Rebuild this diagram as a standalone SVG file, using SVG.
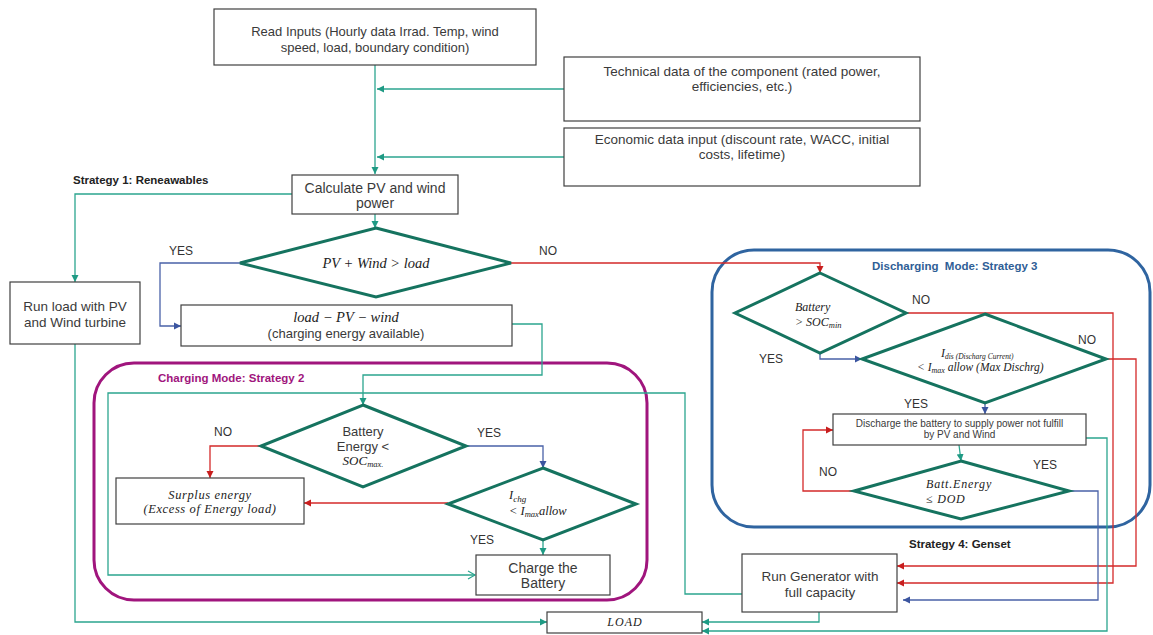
<svg xmlns="http://www.w3.org/2000/svg" width="1153" height="635" viewBox="0 0 1153 635">
  <style>
    .box { fill: #fff; stroke: #404040; stroke-width: 1.2; }
    .dia { fill: #fff; stroke: #15735f; stroke-width: 3; stroke-linejoin: miter; }
    .t { font-family: "Liberation Sans", Arial, sans-serif; fill: #3a3a3a; text-anchor: middle; }
    .lbl { font-family: "Liberation Sans", Arial, sans-serif; font-size: 12px; fill: #333; text-anchor: middle; }
    .m { font-family: "Liberation Serif", "Times New Roman", serif; font-style: italic; fill: #222; }
    .hd { font-family: "Liberation Sans", Arial, sans-serif; font-weight: bold; font-size: 11.5px; }
    .teal { fill: none; stroke: #2ba58f; stroke-width: 1.3; }
    .red { fill: none; stroke: #d42a2a; stroke-width: 1.3; }
    .blue { fill: none; stroke: #4a62a8; stroke-width: 1.3; }
  </style>
  <defs>
    <marker id="aTeal" markerUnits="userSpaceOnUse" markerWidth="8" markerHeight="8" refX="7" refY="4" orient="auto">
      <path d="M0,0.5 L7,4 L0,7.5 z" fill="#1f9a84"/>
    </marker>
    <marker id="aTealOpen" markerUnits="userSpaceOnUse" markerWidth="10" markerHeight="10" refX="8" refY="5" orient="auto">
      <path d="M1,1 L8,5 L1,9" fill="none" stroke="#2ba58f" stroke-width="1.2"/>
    </marker>
    <marker id="aRed" markerUnits="userSpaceOnUse" markerWidth="8" markerHeight="8" refX="7" refY="4" orient="auto">
      <path d="M0,0.5 L7,4 L0,7.5 z" fill="#c81e1e"/>
    </marker>
    <marker id="aBlue" markerUnits="userSpaceOnUse" markerWidth="8" markerHeight="8" refX="7" refY="4" orient="auto">
      <path d="M0,0.5 L7,4 L0,7.5 z" fill="#3b55a0"/>
    </marker>
  </defs>

  <!-- mode containers -->
  <g id="charging-mode">
    <rect x="94" y="363" width="553" height="237" rx="40" fill="none" stroke="#a0157d" stroke-width="3"/>
    <text class="hd" x="158" y="382" fill="#a0157d">Charging Mode: Strategy 2</text>
  </g>
  <g id="discharging-mode">
    <rect x="712" y="250" width="438" height="277" rx="42" fill="none" stroke="#2f64a0" stroke-width="3"/>
    <text class="hd" x="872" y="270" fill="#2f5e96" xml:space="preserve">Discharging  Mode: Strategy 3</text>
  </g>
  <text class="hd" x="73" y="184" fill="#222">Strategy 1: Reneawables</text>
  <text class="hd" x="909" y="548" fill="#222">Strategy 4: Genset</text>

  <!-- connectors -->
  <g id="connectors">
    <path class="teal" d="M375,65 V174" marker-end="url(#aTeal)"/>
    <path class="teal" d="M564,89 H377" marker-end="url(#aTeal)"/>
    <path class="teal" d="M564,157 H377" marker-end="url(#aTeal)"/>
    <path class="teal" d="M375,214 V228" marker-end="url(#aTeal)"/>
    <path class="teal" d="M292,194 H75 V282" marker-end="url(#aTeal)"/>
    <path class="red" d="M511,263 H820 V273" marker-end="url(#aRed)"/>
    <path class="blue" d="M240,263 H160 V326 H181" marker-end="url(#aBlue)"/>
    <path class="teal" d="M512,324 H542 V375 H363 V405" marker-end="url(#aTeal)"/>
    <path class="teal" d="M742,594 H685 V393 H108 V575 H475" marker-end="url(#aTealOpen)"/>
    <path class="red" d="M261,446 H210 V478" marker-end="url(#aRed)"/>
    <path class="blue" d="M466,446 H543 V468" marker-end="url(#aBlue)"/>
    <path class="red" d="M448,503 H304" marker-end="url(#aRed)"/>
    <path class="teal" d="M543,540 V555" marker-end="url(#aTeal)"/>
    <path class="teal" d="M75,344 V622 H547" marker-end="url(#aTeal)"/>
    <path class="red" d="M906,313 H1113 V583 H897" marker-end="url(#aRed)"/>
    <path class="red" d="M1106,359 H1136 V566 H897" marker-end="url(#aRed)"/>
    <path class="blue" d="M820,353 V359 H862" marker-end="url(#aBlue)"/>
    <path class="blue" d="M985,403 V414" marker-end="url(#aBlue)"/>
    <path class="teal" d="M959,445 L961,461" marker-end="url(#aTeal)"/>
    <path class="red" d="M854,491 H803 V430 H833" marker-end="url(#aRed)"/>
    <path class="blue" d="M1069,491 H1098 V600 H903" marker-end="url(#aBlue)"/>
    <path class="teal" d="M1086,438 H1107 V631 H702" marker-end="url(#aTeal)"/>
    <path class="teal" d="M819,612 V622 H702" marker-end="url(#aTeal)"/>
  </g>

  <!-- branch labels -->
  <g id="branch-labels">
    <text class="lbl" x="181" y="255">YES</text>
    <text class="lbl" x="548" y="255">NO</text>
    <text class="lbl" x="223" y="436">NO</text>
    <text class="lbl" x="489" y="437">YES</text>
    <text class="lbl" x="482" y="544">YES</text>
    <text class="lbl" x="921" y="304">NO</text>
    <text class="lbl" x="771" y="363">YES</text>
    <text class="lbl" x="1087" y="344">NO</text>
    <text class="lbl" x="916" y="408">YES</text>
    <text class="lbl" x="828" y="476">NO</text>
    <text class="lbl" x="1045" y="469">YES</text>
  </g>

  <!-- input nodes -->
  <g id="read-inputs">
    <rect class="box" x="214" y="9" width="322" height="56"/>
    <text class="t" x="375" y="35.5" font-size="13">Read Inputs (Hourly data Irrad. Temp, wind</text>
    <text class="t" x="375" y="51.5" font-size="13">speed, load, boundary condition)</text>
  </g>
  <g id="technical-data">
    <rect class="box" x="564" y="57" width="356" height="64"/>
    <text class="t" x="742" y="76" font-size="13.5">Technical data of the component (rated power,</text>
    <text class="t" x="742" y="91" font-size="13.5">efficiencies, etc.)</text>
  </g>
  <g id="economic-data">
    <rect class="box" x="564" y="128" width="356" height="58"/>
    <text class="t" x="742" y="144" font-size="13.5">Economic data input (discount rate, WACC, initial</text>
    <text class="t" x="742" y="159" font-size="13.5">costs, lifetime)</text>
  </g>
  <g id="calculate-power">
    <rect class="box" x="292" y="175" width="166" height="39"/>
    <text class="t" x="375" y="193" font-size="14">Calculate PV and wind</text>
    <text class="t" x="375" y="208" font-size="14">power</text>
  </g>

  <!-- strategy 1 -->
  <g id="run-load-renewables">
    <rect class="box" x="10" y="282" width="130" height="62"/>
    <text class="t" x="75" y="311" font-size="13.5">Run load with PV</text>
    <text class="t" x="75" y="327" font-size="13.5">and Wind turbine</text>
  </g>
  <g id="check-renewables">
    <polygon class="dia" points="376,228 511,263 376,297 240,263"/>
    <text class="m" x="376" y="268" font-size="14.5" text-anchor="middle">PV + Wind &gt; load</text>
  </g>
  <g id="charging-energy">
    <rect class="box" x="181" y="305" width="331" height="41"/>
    <text class="m" x="346" y="322" font-size="14.5" text-anchor="middle">load − PV − wind</text>
    <text class="t" x="346" y="337.5" font-size="13">(charging energy available)</text>
  </g>

  <!-- strategy 2: charging -->
  <g id="check-soc-max">
    <polygon class="dia" points="363,405 466,446 363,487 261,446"/>
    <text class="t" x="363" y="435.5" font-size="13">Battery</text>
    <text class="t" x="363" y="450.5" font-size="13">Energy &lt;</text>
    <text class="m" x="363" y="465" font-size="13" text-anchor="middle">SOC<tspan font-size="8.5" dy="2">max.</tspan></text>
  </g>
  <g id="surplus-energy">
    <rect class="box" x="116" y="478" width="188" height="46"/>
    <text class="m" x="210" y="499" font-size="12.5" letter-spacing="0.6" text-anchor="middle">Surplus energy</text>
    <text class="m" x="210" y="513" font-size="12.5" letter-spacing="0.6" text-anchor="middle">(Excess of Energy load)</text>
  </g>
  <g id="check-charge-current">
    <polygon class="dia" points="543,468 636,504 543,540 448,504"/>
    <text class="m" x="509" y="499" font-size="12.5">I<tspan font-size="9" dy="3">chg</tspan></text>
    <text class="m" x="509" y="515" font-size="12.5">&lt; I<tspan font-size="8.5" dy="2">max</tspan><tspan dy="-2">allow</tspan></text>
  </g>
  <g id="charge-battery">
    <rect class="box" x="476" y="555" width="134" height="40"/>
    <text class="t" x="543" y="573" font-size="14">Charge the</text>
    <text class="t" x="543" y="588" font-size="14">Battery</text>
  </g>

  <!-- strategy 3: discharging -->
  <g id="check-soc-min">
    <polygon class="dia" points="820,273 906,313 820,353 735,313"/>
    <text class="m" x="795" y="311" font-size="12">Battery</text>
    <text class="m" x="795" y="326" font-size="12">&gt; SOC<tspan font-size="8.5" dy="2">min</tspan></text>
  </g>
  <g id="check-discharge-current">
    <polygon class="dia" points="985,314 1106,359 985,403 862,359"/>
    <text class="m" x="941" y="357" font-size="12">I<tspan font-size="7.5" dy="2">dis (Discharg Current)</tspan></text>
    <text class="m" x="917" y="371" font-size="11.5">&lt; I<tspan font-size="8" dy="2">max</tspan><tspan dy="-2"> allow (Max Dischrg)</tspan></text>
  </g>
  <g id="discharge-battery">
    <rect class="box" x="833" y="414" width="253" height="31"/>
    <text class="t" x="959.5" y="426.5" font-size="10">Discharge the battery to supply power not fulfill</text>
    <text class="t" x="959.5" y="438" font-size="10">by PV and Wind</text>
  </g>
  <g id="check-dod">
    <polygon class="dia" points="961,461 1069,491 961,519 854,491"/>
    <text class="m" x="926" y="488" font-size="12" letter-spacing="0.8">Batt.Energy</text>
    <text class="m" x="926" y="503" font-size="12" letter-spacing="0.8">≤ DOD</text>
  </g>

  <!-- strategy 4: genset -->
  <g id="run-generator">
    <rect class="box" x="742" y="554" width="155" height="58"/>
    <text class="t" x="820" y="581" font-size="13.5">Run Generator with</text>
    <text class="t" x="820" y="597" font-size="13.5">full capacity</text>
  </g>
  <g id="load">
    <rect class="box" x="547" y="612" width="155" height="21"/>
    <text class="m" x="625" y="626" font-size="12" letter-spacing="1" text-anchor="middle">LOAD</text>
  </g>
</svg>
